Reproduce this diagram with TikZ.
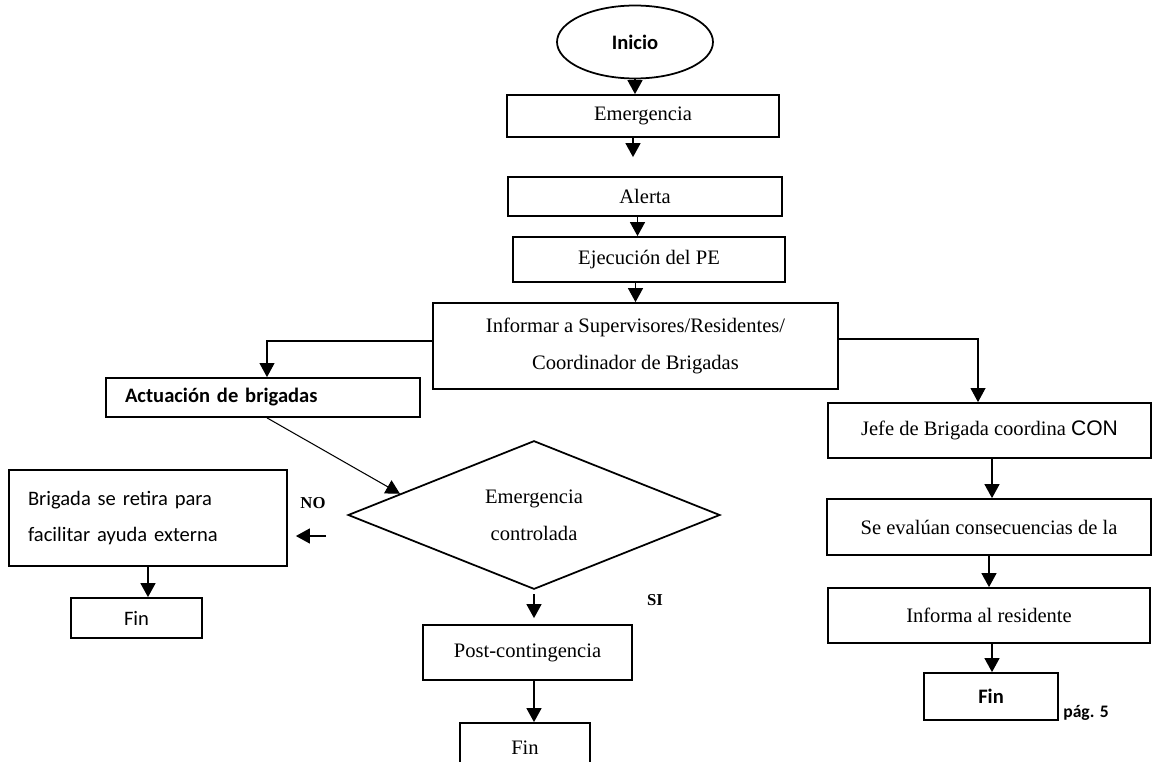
\documentclass[tikz,border=0pt]{standalone}
\usepackage{fontspec}
\setmainfont{Liberation Serif}
\setsansfont{Carlito}
\newfontfamily\arialfont{Liberation Sans}
\usetikzlibrary{arrows.meta,shapes.geometric}
\newcommand{\boxfont}{\fontsize{11.7}{21}\selectfont}
\begin{document}
\begin{tikzpicture}[x=0.02cm, y=-0.02cm,
    box/.style={draw, line width=1pt, inner sep=0pt, align=center, font=\boxfont},
    flow/.style={line width=1pt, -{Triangle[width=8.5pt,length=8pt]}},
    thinflow/.style={line width=0.6pt, -{Triangle[width=8.5pt,length=8pt]}},
    answer/.style={font=\bfseries\fontsize{9.5}{11}\selectfont}]
    \useasboundingbox (0,0) rectangle (1152,761);
    \clip (0,0) rectangle (1152,761);

    % central column
    \node[box, ellipse, minimum width=3.12cm, minimum height=1.46cm, font=\sffamily\bfseries\boxfont] (inicio) at (635,42) {Inicio};
    \node[box, minimum width=5.44cm, minimum height=0.84cm] (emerg) at (643,116) {Emergencia};
    \node[box, minimum width=5.48cm, minimum height=0.78cm] (alerta) at (645,196.5) {Alerta};
    \node[box, minimum width=5.44cm, minimum height=0.9cm] (ejec) at (649,259.5) {Ejecución del PE};
    \node[box, minimum width=8.1cm, minimum height=1.72cm] (inform) at (635.5,346) {Informar a Supervisores/Residentes/\\Coordinador de Brigadas};

    % left branch
    \node[box, text width=5.52cm, inner xsep=0.38cm, align=left, minimum height=0.78cm, font=\sffamily\bfseries\boxfont] (actua) at (263,397.5) {Actuación de brigadas};
    \node[box, diamond, minimum width=7.44cm, minimum height=2.96cm] (dec) at (534,515) {Emergencia\\controlada};
    \node[box, text width=4.8cm, inner xsep=0.38cm, align=left, minimum height=1.92cm, font=\sffamily\boxfont] (brig) at (148,518) {Brigada se retira para\\facilitar ayuda externa};
    \node[box, minimum width=2.62cm, minimum height=0.8cm, font=\sffamily\boxfont] (finL) at (136.5,618) {Fin};
    \node[box, minimum width=4.18cm, minimum height=1.1cm] (post) at (527.5,652.5) {Post-contingencia};
    \node[box, minimum width=2.6cm, minimum height=1cm] (finC) at (525,748) {Fin};
    \node[answer] (no) at (313,503) {NO};
    \node[answer] (si) at (655,600) {SI};
    \coordinate (nostart) at (326,536);

    % right branch
    \node[box, minimum width=6.46cm, minimum height=1.1cm] (jefe) at (989.5,430.5) {Jefe de Brigada coordina {\arialfont\fontsize{12}{21}\selectfont CON}};
    \node[box, minimum width=6.48cm, minimum height=1.12cm] (evalua) at (989,527) {Se evalúan consecuencias de la};
    \node[box, minimum width=6.44cm, minimum height=1.1cm] (informa) at (989,615.5) {Informa al residente};
    \node[box, minimum width=2.68cm, minimum height=0.94cm, font=\sffamily\bfseries\boxfont] (finR) at (991,696.5) {Fin};
    \node[font=\sffamily\bfseries\fontsize{10}{12}\selectfont] (pag) at (1086,713) {pág. 5};

    % connectors
    \draw[flow] (inicio.south) -- (inicio.south |- emerg.north);
    \draw[flow, shorten >=0.38cm] ([xshift=-0.2cm]emerg.south) -- ([xshift=-0.2cm]emerg.south |- alerta.north);
    \draw[flow] ([xshift=-0.15cm]alerta.south) -- ([xshift=-0.15cm]alerta.south |- ejec.north);
    \draw[flow] (inform.north |- ejec.south) -- (inform.north);
    \draw[thinflow] ([yshift=0.1cm]inform.west) -| ([xshift=0.08cm]actua.north);
    \draw[thinflow] ([yshift=0.14cm]inform.east) -| ([xshift=-0.23cm]jefe.north);
    \draw[thinflow] ([xshift=0.08cm]actua.south) -- (dec.171);
    \draw[flow] (nostart) -- (nostart -| brig.east) [shorten >=0.16cm];
    \draw[flow, shorten <=0.08cm, shorten >=0.12cm] (dec.south) -- (dec.south |- post.north);
    \draw[flow] (dec.south |- post.south) -- (dec.south |- finC.north);
    \draw[flow] (brig.south) -- (brig.south |- finL.north);
    \draw[flow] ([xshift=0.05cm]jefe.south) -- ([xshift=0.05cm]jefe.south |- evalua.north);
    \draw[flow] (evalua.south) -- (informa.north);
    \draw[flow] ([xshift=0.06cm]informa.south) -- ([xshift=0.06cm]informa.south |- finR.north);
\end{tikzpicture}
\end{document}
